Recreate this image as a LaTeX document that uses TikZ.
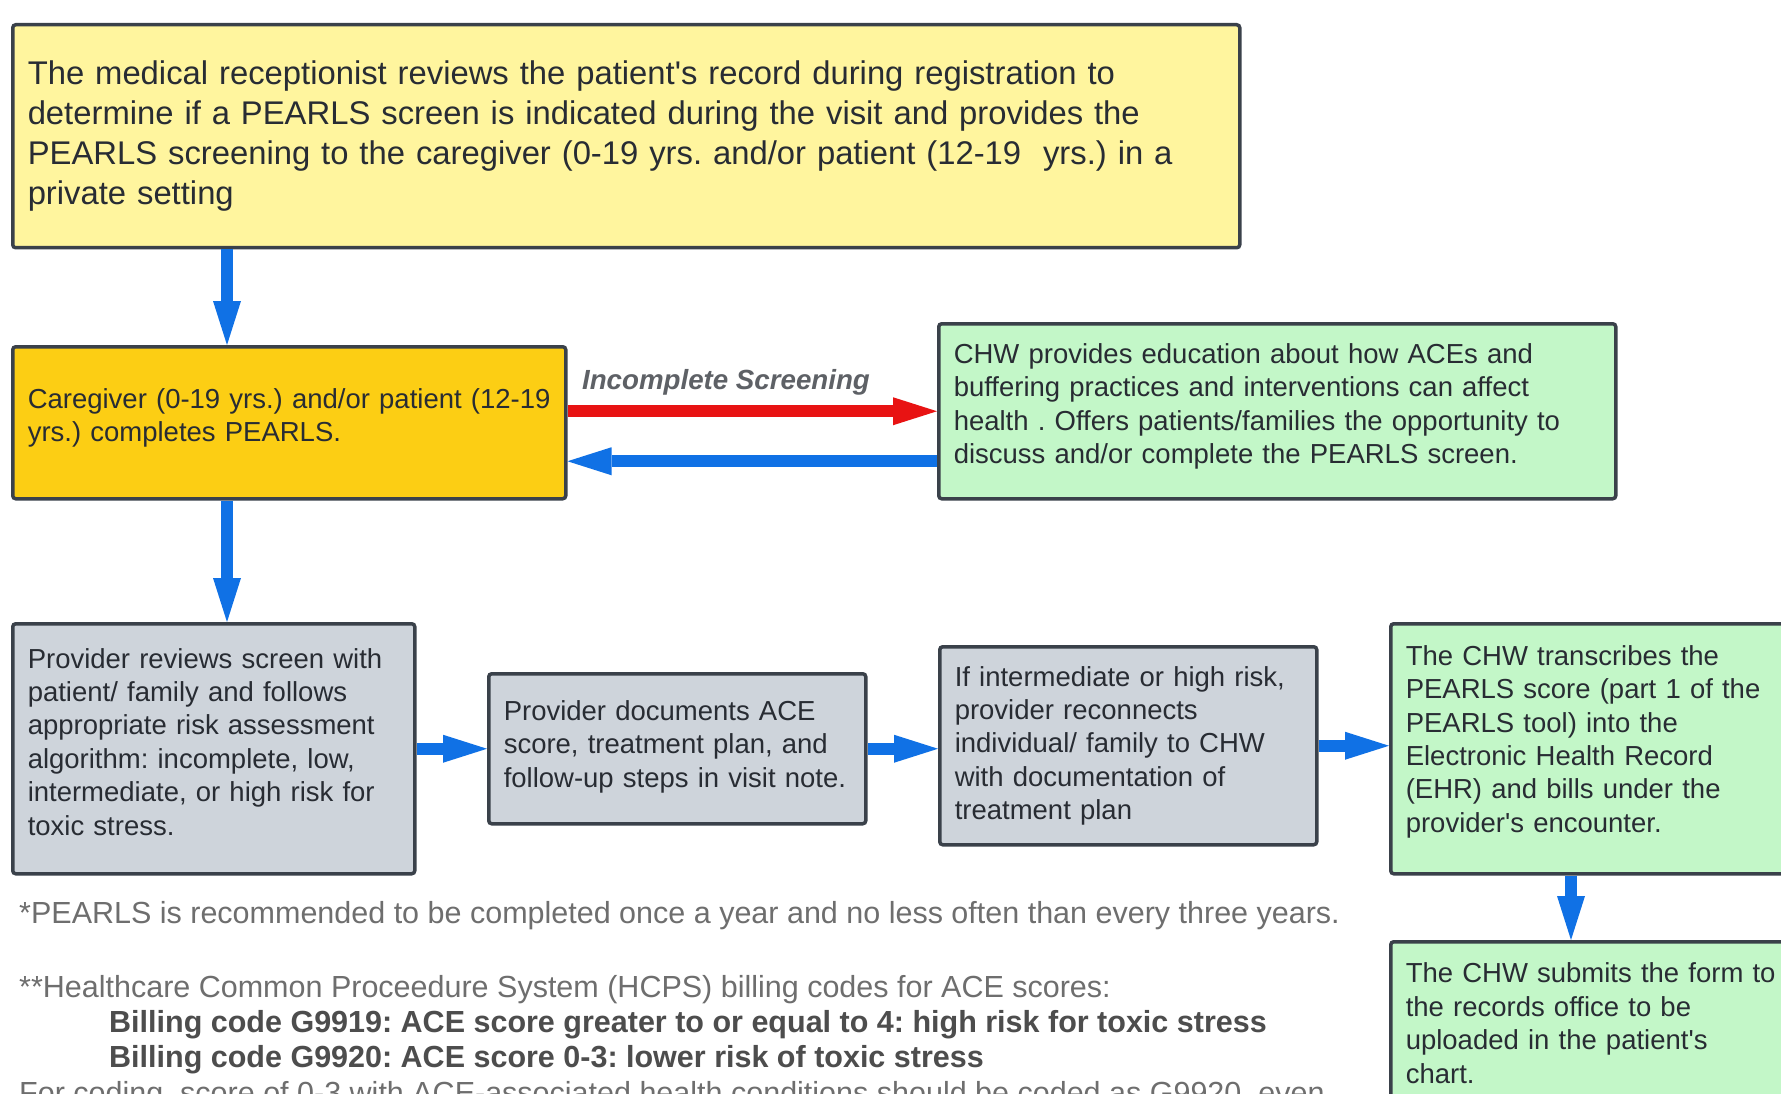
\documentclass[tikz,border=0pt]{standalone}
\usepackage{fontspec}
\setmainfont{Liberation Sans}
\frenchspacing
\usetikzlibrary{arrows.meta,calc,positioning}
\definecolor{topyellow}{HTML}{FFF59E}
\definecolor{caregold}{HTML}{FCCE14}
\definecolor{chwgreen}{HTML}{C3F7C8}
\definecolor{provgray}{HTML}{CED4DB}
\definecolor{boxline}{HTML}{3A414A}
\definecolor{boxtext}{HTML}{282C33}
\definecolor{flowblue}{HTML}{1071E5}
\definecolor{alertred}{HTML}{E81313}
\definecolor{labelgray}{HTML}{5E6166}
\definecolor{notegray}{HTML}{6E6E6E}
\definecolor{boldgray}{HTML}{4D4D4D}

\begin{document}
\begin{tikzpicture}[x=1pt,y=-1pt]
    \tikzset{every path/.style={>={Triangle[length=44pt,width=28pt,line width=0pt]}},
      box/.style 2 args={draw=boxline,line width=3.5pt,rounded corners=3pt,anchor=north west,
        inner xsep=15pt,inner ysep=6pt,align=left,text=boxtext,text width=#1-30pt,minimum height=#2,
        font=\fontsize{27.5pt}{33.4pt}\selectfont},
      lift/.style={execute at end node={\par\vspace*{#1}}},
      flow/.style={->,line width=12pt,draw=flowblue},
      note/.style={anchor=base west,inner sep=0pt,text=notegray,font=\fontsize{30.5pt}{36pt}\selectfont}}
    \useasboundingbox (0,0) rectangle (1781,1094);
    \clip (0,0) rectangle (1781,1094);
    \fill[white] (0,0) rectangle (1781,1094);
%   top row
    \node [box={1227pt}{223pt},fill=topyellow,font=\fontsize{32.8pt}{40pt}\selectfont] (recep) at (11,23)
      {The medical receptionist reviews the patient\textquotesingle s record during registration to\\
       determine if a PEARLS screen is indicated during the visit and provides the\\
       PEARLS screening to the caregiver (0-19 yrs. and/or patient (12-19\ \ yrs.) in a\\
       private setting};
    \node [box={553pt}{152pt},fill=caregold,lift=10pt] (care) at (11,345)
      {Caregiver (0-19 yrs.) and/or patient (12-19\\ yrs.) completes PEARLS.};
    \node [box={677pt}{175pt},fill=chwgreen,lift=10pt] (chw) at (937,322)
      {CHW provides education about how ACEs and\\ buffering practices and interventions can affect\\
       health . Offers patients/families the opportunity to\\ discuss and/or complete the PEARLS screen.};
%   provider row
    \node [box={402pt}{250pt},fill=provgray,lift=14pt] (review) at (11,622)
      {Provider reviews screen with\\ patient/ family and follows\\ appropriate risk assessment\\
       algorithm: incomplete, low,\\ intermediate, or high risk for\\ toxic stress.};
    \node [box={377pt}{150pt},fill=provgray,lift=4pt] (document) at (487,672)
      {Provider documents ACE\\ score, treatment plan, and\\ follow-up steps in visit note.};
    \node [box={377pt}{198pt},fill=provgray] (reconnect) at (938,645)
      {If intermediate or high risk,\\ provider reconnects\\ individual/ family to CHW\\
       with documentation of\\ treatment plan};
    \node [box={420pt}{250pt},fill=chwgreen,lift=14pt] (transcribe) at (1389,622)
      {The CHW transcribes the\\ PEARLS score (part 1 of the\\ PEARLS tool) into the\\
       Electronic Health Record\\ (EHR) and bills under the\\ provider\textquotesingle s encounter.};
    \node [box={420pt}{163pt},fill=chwgreen] (submit) at (1389,940)
      {The CHW submits the form to\\ the records office to be\\ uploaded in the patient\textquotesingle s\\ chart.};

    \draw[flow] ([xshift=216pt]recep.south west) -- ([xshift=216pt]care.north west);
    \draw[flow] ([xshift=216pt]care.south west) -- ([xshift=216pt]review.north west);
    \draw[flow,draw=alertred] (care.east |- chw.west) -- (chw.west);
    \coordinate (back) at ([yshift=-50pt]chw.west);
    \draw[flow] (back) -- (back -| care.east);
    \node [text=labelgray,font=\fontsize{27.7pt}{32pt}\selectfont\bfseries\itshape] (incomplete) at (726,382) {Incomplete Screening};
    \draw[flow] (review.east) -- (document.west);
    \draw[flow] (document.east) -- (document.east -| reconnect.west);
    \draw[flow] (reconnect.east) -- (reconnect.east -| transcribe.west);
    \coordinate (down) at ([xshift=182pt]transcribe.south west);
    \draw[flow] (down) -- (down |- submit.north);

%   footnotes
    \node [note] (yearly) at (19,923) {*PEARLS is recommended to be completed once a year and no less often than every three years.};
    \node [note] (hcps) at (19,997) {**Healthcare Common Proceedure System (HCPS) billing codes for ACE scores:};
    \node [note,text=boldgray,font=\fontsize{30.5pt}{36pt}\selectfont\bfseries] (gnineteen) at (109,1032) {Billing code G9919: ACE score greater to or equal to 4: high risk for toxic stress};
    \node [note,text=boldgray,font=\fontsize{30.5pt}{36pt}\selectfont\bfseries] (gtwenty) at (109,1067) {Billing code G9920: ACE score 0-3: lower risk of toxic stress};
    \node [note] (coding) at (19,1103) {For coding, score of 0-3 with ACE-associated health conditions should be coded as G9920, even};
\end{tikzpicture}
\end{document}
